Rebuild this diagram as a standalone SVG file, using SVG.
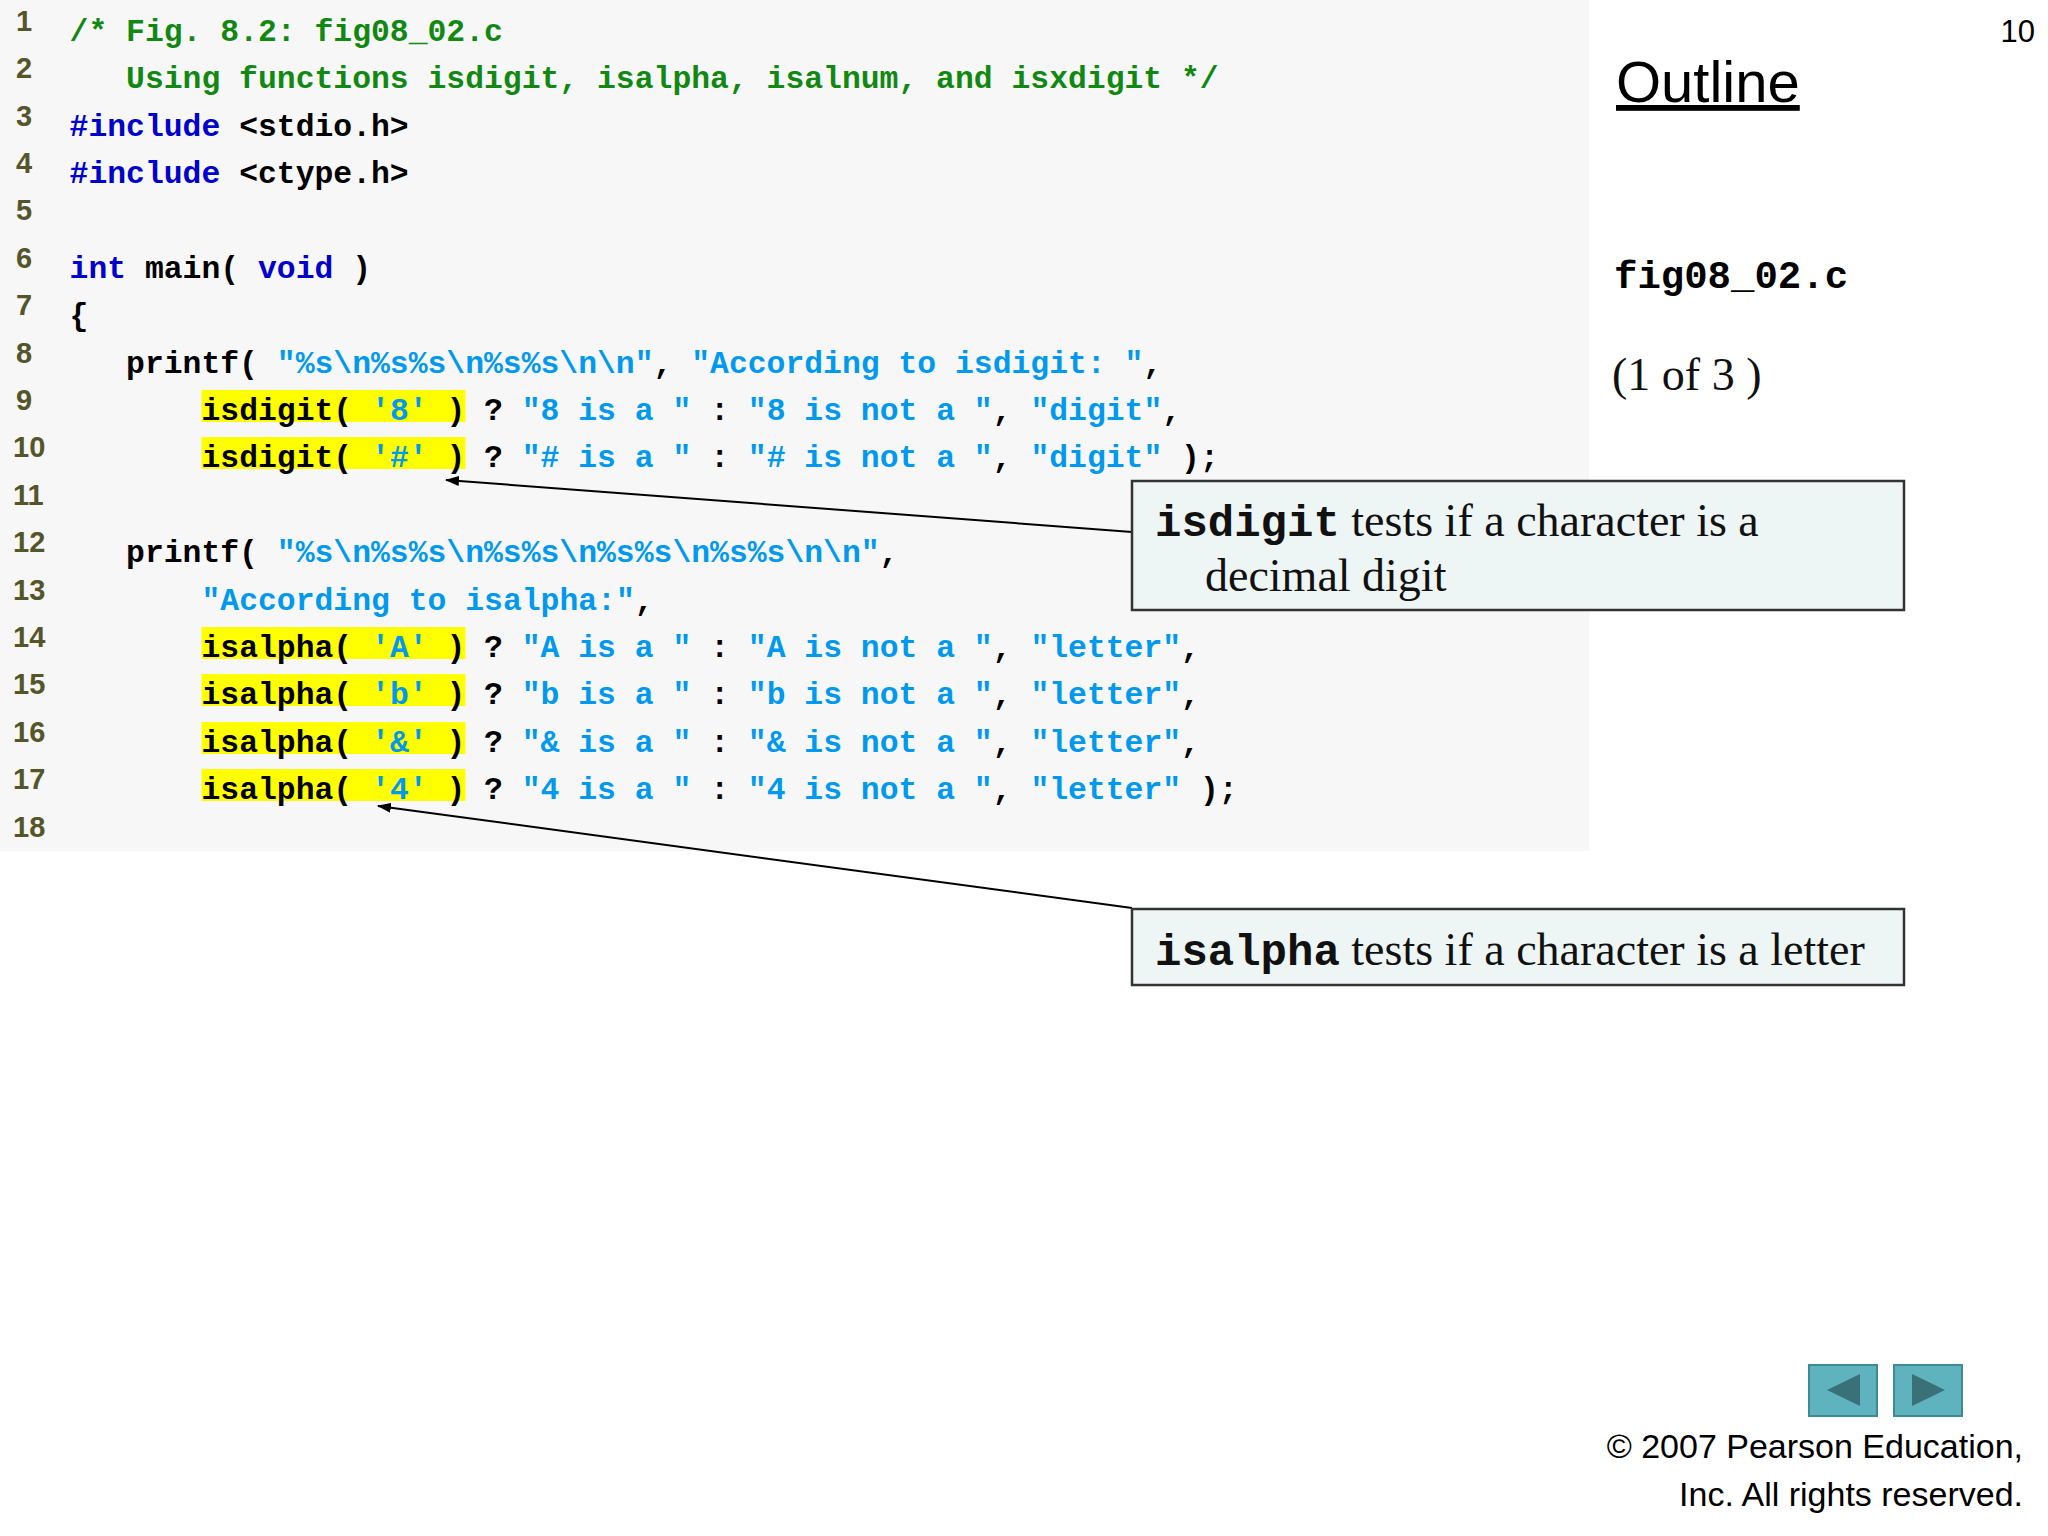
<svg xmlns="http://www.w3.org/2000/svg" width="2048" height="1536" viewBox="0 0 2048 1536">
<style>
.code{font-family:"Liberation Mono",monospace;font-weight:bold;font-size:31.4px;fill:#000;white-space:pre}
.c{fill:#118811}.k{fill:#0000cc}.s{fill:#0099ee}
.ln{font-family:"Liberation Sans",Arial,sans-serif;font-weight:bold;font-size:29px;fill:#55552a}
.hl{fill:#ffff00}
.box{fill:#eef5f5;stroke:#333;stroke-width:2.5}
.mono{font-family:"Liberation Mono",monospace;font-weight:bold;font-size:44px;fill:#111}
.ser{font-family:"Liberation Serif","Times New Roman",serif;font-size:46px;fill:#111}
.sans{font-family:"Liberation Sans",Arial,sans-serif;fill:#000;white-space:pre}
.conn{stroke:#000;stroke-width:2;fill:none;marker-end:url(#ah)}
</style>
<defs>
<marker id="ah" markerWidth="14" markerHeight="10" refX="13" refY="5" orient="auto" markerUnits="userSpaceOnUse">
<path d="M0,0 L14,5 L0,10 Z" fill="#000"/>
</marker>
</defs>
<rect width="2048" height="1536" fill="#fff"/>
<rect x="0" y="0" width="1589" height="851" fill="#f7f7f7"/>
<g id="highlights">
<rect class="hl" x="201.5" y="390" width="264" height="32"/>
<rect class="hl" x="201.5" y="437" width="264" height="32"/>
<rect class="hl" x="201.5" y="627" width="264" height="32"/>
<rect class="hl" x="201.5" y="674" width="264" height="32"/>
<rect class="hl" x="201.5" y="722" width="264" height="32"/>
<rect class="hl" x="201.5" y="769" width="264" height="32"/>
</g>
<g id="linenumbers" class="ln">
<text x="16" y="31">1</text><text x="16" y="78">2</text><text x="16" y="126">3</text>
<text x="16" y="173">4</text><text x="16" y="220">5</text><text x="16" y="268">6</text>
<text x="16" y="315">7</text><text x="16" y="363">8</text><text x="16" y="410">9</text>
<text x="13" y="457">10</text><text x="13" y="505">11</text><text x="13" y="552">12</text>
<text x="13" y="600">13</text><text x="13" y="647">14</text><text x="13" y="694">15</text>
<text x="13" y="742">16</text><text x="13" y="789">17</text><text x="13" y="837">18</text>
</g>
<g id="code" class="code">
<text x="69.6" y="40.7"><tspan class="c">/* Fig. 8.2: fig08_02.c</tspan></text>
<text x="126.1" y="88.1"><tspan class="c">Using functions isdigit, isalpha, isalnum, and isxdigit */</tspan></text>
<text x="69.6" y="135.5"><tspan class="k">#include</tspan> &lt;stdio.h&gt;</text>
<text x="69.6" y="182.9"><tspan class="k">#include</tspan> &lt;ctype.h&gt;</text>
<text x="69.6" y="277.7"><tspan class="k">int</tspan> main( <tspan class="k">void</tspan> )</text>
<text x="69.6" y="325.1">{</text>
<text x="126.1" y="372.5">printf( <tspan class="s">"%s\n%s%s\n%s%s\n\n"</tspan>, <tspan class="s">"According to isdigit: "</tspan>,</text>
<text x="201.5" y="419.9">isdigit( <tspan class="s">'8'</tspan> ) ? <tspan class="s">"8 is a "</tspan> : <tspan class="s">"8 is not a "</tspan>, <tspan class="s">"digit"</tspan>,</text>
<text x="201.5" y="467.3">isdigit( <tspan class="s">'#'</tspan> ) ? <tspan class="s">"# is a "</tspan> : <tspan class="s">"# is not a "</tspan>, <tspan class="s">"digit"</tspan> );</text>
<text x="126.1" y="562.1">printf( <tspan class="s">"%s\n%s%s\n%s%s\n%s%s\n%s%s\n\n"</tspan>,</text>
<text x="201.5" y="609.5"><tspan class="s">"According to isalpha:"</tspan>,</text>
<text x="201.5" y="656.9">isalpha( <tspan class="s">'A'</tspan> ) ? <tspan class="s">"A is a "</tspan> : <tspan class="s">"A is not a "</tspan>, <tspan class="s">"letter"</tspan>,</text>
<text x="201.5" y="704.3">isalpha( <tspan class="s">'b'</tspan> ) ? <tspan class="s">"b is a "</tspan> : <tspan class="s">"b is not a "</tspan>, <tspan class="s">"letter"</tspan>,</text>
<text x="201.5" y="751.7">isalpha( <tspan class="s">'&amp;'</tspan> ) ? <tspan class="s">"&amp; is a "</tspan> : <tspan class="s">"&amp; is not a "</tspan>, <tspan class="s">"letter"</tspan>,</text>
<text x="201.5" y="799.1">isalpha( <tspan class="s">'4'</tspan> ) ? <tspan class="s">"4 is a "</tspan> : <tspan class="s">"4 is not a "</tspan>, <tspan class="s">"letter"</tspan> );</text>
</g>
<g id="sidebar">
<text class="sans" x="2035" y="42" font-size="31" text-anchor="end">10</text>
<text class="sans" x="1616" y="102" font-size="58" text-decoration="underline">Outline</text>
<text x="1614" y="288" style="font-family:'Liberation Mono',monospace;font-weight:bold;font-size:39px">fig08_02.c</text>
<text class="ser" x="1612" y="390" font-size="47">(1 of 3 )</text>
</g>
<g id="connectors">
<line class="conn" x1="1132" y1="532" x2="446" y2="480"/>
<line class="conn" x1="1132" y1="908" x2="378" y2="806"/>
</g>
<g id="callout-isdigit">
<rect class="box" x="1132" y="481" width="772" height="129"/>
<text x="1155" y="536"><tspan class="mono">isdigit</tspan><tspan class="ser"> tests if a character is a</tspan></text>
<text class="ser" x="1205" y="591">decimal digit</text>
</g>
<g id="callout-isalpha">
<rect class="box" x="1132" y="909" width="772" height="76"/>
<text x="1155" y="965"><tspan class="mono">isalpha</tspan><tspan class="ser"> tests if a character is a letter</tspan></text>
</g>
<g id="nav">
<rect x="1809" y="1365" width="68" height="51" fill="#5fb3bf" stroke="#3d8a94" stroke-width="2"/>
<path d="M1827,1390 L1860,1374 L1860,1406 Z" fill="#3a7078"/>
<rect x="1894" y="1365" width="68" height="51" fill="#5fb3bf" stroke="#3d8a94" stroke-width="2"/>
<path d="M1945,1390 L1912,1374 L1912,1406 Z" fill="#3a7078"/>
</g>
<g id="footer" class="sans" font-size="34" text-anchor="end">
<text x="2023" y="1458">© 2007 Pearson Education,</text>
<text x="2023" y="1506">Inc.  All rights reserved.</text>
</g>
</svg>
